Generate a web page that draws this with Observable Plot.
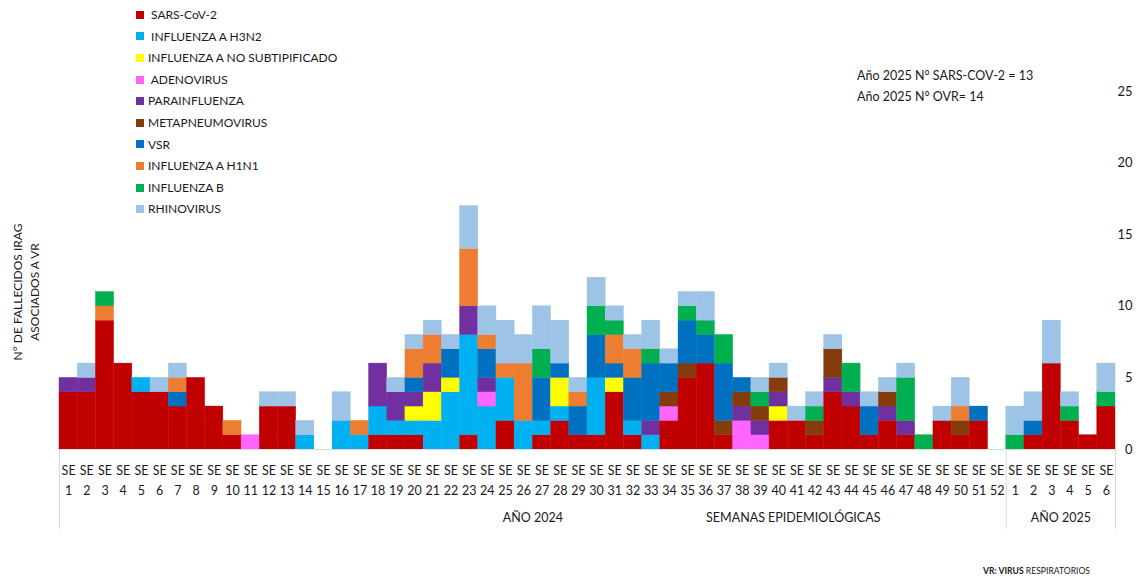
<!DOCTYPE html>
<html><head><meta charset="utf-8">
<script src="https://cdn.jsdelivr.net/npm/d3@7"></script>
<script src="https://cdn.jsdelivr.net/npm/@observablehq/plot@0.6"></script>
<style>
body{margin:0;background:#fff;font-family:Lato,"Open Sans",sans-serif;color:#1a1a1a}
#wrap{position:relative;width:1136px;height:580px;overflow:hidden}
#wrap svg{position:absolute;left:0;top:0}
.legend{position:absolute;left:136px;top:4px;font-size:12px;line-height:21.6px}
.legend div{display:flex;align-items:center;white-space:nowrap}
.legend span.sw{display:inline-block;width:8px;height:8px;margin-right:4px}
.ytitle{position:absolute;left:26px;top:292px;transform:translate(-50%,-50%) rotate(-90deg);font-size:12px;text-align:center;line-height:17px;white-space:nowrap}
.note{position:absolute;left:857px;top:65px;font-size:12.5px;line-height:21px;white-space:nowrap}
.cap{position:absolute;right:46px;top:566px;font-size:8.6px;white-space:nowrap}
</style></head><body><div id="wrap"></div>
<script>
const weeks2024 = d3.range(1, 53);
const weeks2025 = [1, 2, 3, 4, 5, 6];
const viruses = ["SARS-CoV-2","INFLUENZA A H3N2","INFLUENZA A NO SUBTIPIFICADO","ADENOVIRUS","PARAINFLUENZA","METAPNEUMOVIRUS","VSR","INFLUENZA A H1N1","INFLUENZA B","RHINOVIRUS"];
const legendLabels = ["\u00a0SARS-CoV-2","\u00a0INFLUENZA A H3N2","INFLUENZA A NO SUBTIPIFICADO","\u00a0ADENOVIRUS","PARAINFLUENZA","METAPNEUMOVIRUS","VSR","INFLUENZA A H1N1","INFLUENZA B","RHINOVIRUS"];
const colors = ["#C00000","#00B0F0","#FFFF00","#FF66FF","#7030A0","#843C0C","#0070C0","#ED7D31","#00B050","#9DC3E6"];
// 52 weeks of 2024 followed by 6 weeks of 2025
const sars   = [4,4,9,6,4,4,3,5,3,1, 0,3,3,0,0,0,0,1,1,1, 0,0,1,0,2,0,1,2,1,1, 4,1,0,2,5,6,1,0,0,2, 2,1,4,3,1,2,1,0,2,1, 2,0, 0,1,6,2,1,3];
const h3n2   = [0,0,0,0,1,0,0,0,0,0, 0,0,0,1,0,2,1,2,1,1, 2,4,7,3,3,2,1,1,0,4, 0,1,1,0,0,0,0,0,0,0, 0,0,0,0,0,0,0,0,0,0, 0,0, 0,0,0,0,0,0];
const fluANS = [0,0,0,0,0,0,0,0,0,0, 0,0,0,0,0,0,0,0,0,1, 2,1,0,0,0,0,0,2,0,0, 1,0,0,0,0,0,0,0,0,1, 0,0,0,0,0,0,0,0,0,0, 0,0, 0,0,0,0,0,0];
const adeno  = [0,0,0,0,0,0,0,0,0,0, 1,0,0,0,0,0,0,0,0,0, 0,0,0,1,0,0,0,0,0,0, 0,0,0,1,0,0,0,2,1,0, 0,0,0,0,0,0,0,0,0,0, 0,0, 0,0,0,0,0,0];
const para   = [1,1,0,0,0,0,0,0,0,0, 0,0,0,0,0,0,0,3,2,1, 2,0,2,1,0,0,0,0,0,0, 0,0,1,0,0,0,0,1,1,1, 0,0,1,1,0,1,1,0,0,0, 0,0, 0,0,0,0,0,0];
const metap  = [0,0,0,0,0,0,0,0,0,0, 0,0,0,0,0,0,0,0,0,0, 0,0,0,0,0,0,0,0,0,0, 0,0,0,1,1,0,1,1,1,1, 0,1,2,0,0,1,0,0,0,1, 0,0, 0,0,0,0,0,0];
const vsr    = [0,0,0,0,0,0,1,0,0,0, 0,0,0,0,0,0,0,0,0,1, 0,2,0,2,0,0,3,1,2,3, 1,3,4,2,3,2,4,1,0,0, 0,0,0,0,2,0,0,0,0,0, 1,0, 0,1,0,0,0,0];
const h1n1   = [0,0,1,0,0,0,1,0,0,1, 0,0,0,0,0,0,1,0,0,2, 2,0,4,1,1,4,0,0,1,0, 2,2,0,0,0,0,0,0,0,0, 0,0,0,0,0,0,0,0,0,1, 0,0, 0,0,0,0,0,0];
const fluB   = [0,0,1,0,0,0,0,0,0,0, 0,0,0,0,0,0,0,0,0,0, 0,0,0,0,0,0,2,0,0,2, 1,0,1,0,1,1,2,0,1,0, 0,1,0,2,0,0,3,1,0,0, 0,0, 1,0,0,1,0,1];
const rhino  = [0,1,0,0,0,1,1,0,0,0, 0,1,1,1,0,2,0,0,1,1, 1,1,3,2,3,2,3,3,1,2, 1,1,2,1,1,2,0,0,1,1, 1,1,1,0,1,1,1,0,1,2, 0,0, 2,2,3,1,0,2];
const series = [sars, h3n2, fluANS, adeno, para, metap, vsr, h1n1, fluB, rhino];

const weekLabels = [...weeks2024, ...weeks2025].map(w => "SE\n" + w);
const nWeeks = weekLabels.length;

const records = [];
for (let i = 0; i < nWeeks; i++) {
  let cum = 0;
  series.forEach((s, k) => {
    const n = s[i];
    if (n > 0) { records.push({i, virus: viruses[k], y1: cum, y2: cum + n}); cum += n; }
  });
}

const groups = [
  {x: weeks2024.length / 2, t: "AÑO 2024"},
  {x: 40.3, t: "SEMANAS EPIDEMIOLÓGICAS"},
  {x: weeks2024.length + weeks2025.length / 2, t: "AÑO 2025"}
];

const chart = Plot.plot({
  width: 1136, height: 580,
  marginLeft: 59, marginRight: 21, marginTop: 91, marginBottom: 131,
  style: {fontFamily: "Lato, 'Open Sans', sans-serif", fontSize: "12.5px", color: "#1a1a1a", background: "transparent"},
  x: {domain: [0, nWeeks], axis: null},
  y: {domain: [0, 25], axis: null},
  color: {domain: viruses, range: colors},
  marks: [
    Plot.rect(records, {x1: d => d.i, x2: d => d.i + 1, y1: "y1", y2: "y2", fill: "virus", stroke: "virus", strokeWidth: 0.4}),
    Plot.ruleY([0], {stroke: "#d9d9d9"}),
    Plot.ruleX([0, weeks2024.length, nWeeks], {y1: 0, y2: -5.6, stroke: "#d9d9d9"}),
    Plot.axisY({anchor: "right", ticks: [0, 5, 10, 15, 20, 25], tickSize: 0, tickPadding: 0, textAnchor: "end", dx: 17, fontSize: 13, label: null}),
    Plot.text(weekLabels, {x: (d, i) => i + 0.5, text: d => d, frameAnchor: "bottom", lineAnchor: "top", dy: 12, lineHeight: 1.55, fontSize: 12.5, fill: "#1a1a1a"}),
    Plot.text(groups, {x: "x", text: "t", frameAnchor: "bottom", dy: 72, fontSize: 12.5, fill: "#1a1a1a"})
  ]
});

const wrap = document.getElementById("wrap");
wrap.appendChild(chart);

const leg = document.createElement("div");
leg.className = "legend";
legendLabels.forEach((l, k) => {
  const row = document.createElement("div");
  row.innerHTML = `<span class="sw" style="background:${colors[k]}"></span><span>${l}</span>`;
  leg.appendChild(row);
});
wrap.appendChild(leg);

const yt = document.createElement("div");
yt.className = "ytitle";
yt.innerHTML = "N° DE FALLECIDOS IRAG<br>ASOCIADOS A VR";
wrap.appendChild(yt);

const note = document.createElement("div");
note.className = "note";
note.innerHTML = "Año 2025 N° SARS-COV-2 = " + d3.sum(sars.slice(52)) + "<br>Año 2025 N° OVR= " + d3.sum(series.slice(1), s => d3.sum(s.slice(52)));
wrap.appendChild(note);

const cap = document.createElement("div");
cap.className = "cap";
cap.innerHTML = "<b>VR: VIRUS</b> RESPIRATORIOS";
wrap.appendChild(cap);
</script>
</body></html>
